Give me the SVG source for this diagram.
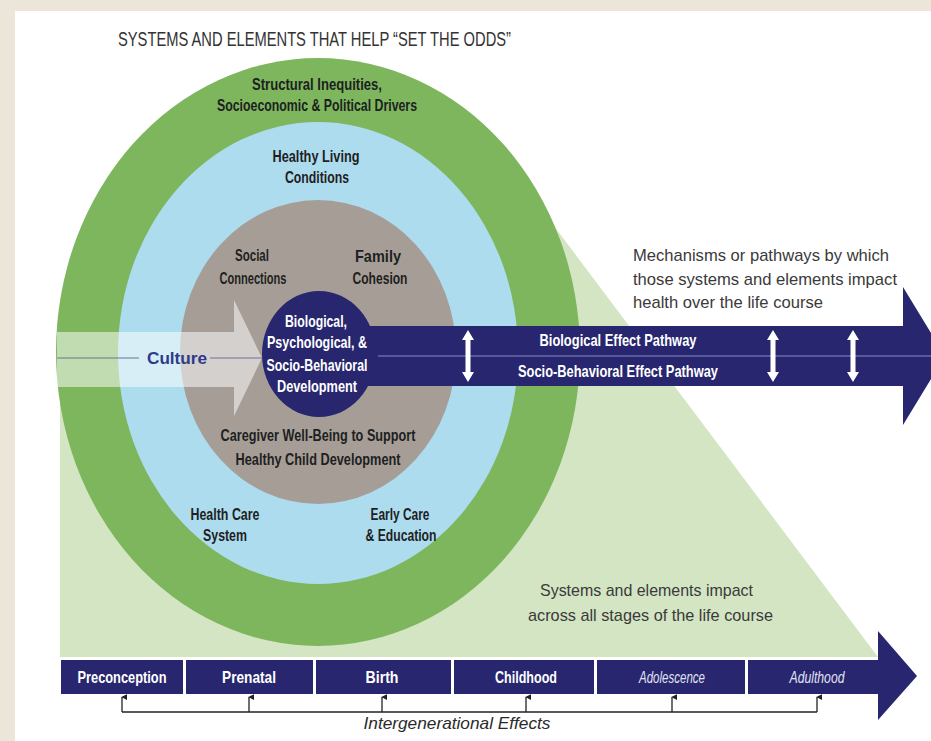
<svg xmlns="http://www.w3.org/2000/svg" width="931" height="741" viewBox="0 0 931 741">
  <style>
    .lbl { font-family: "Liberation Sans", Arial, sans-serif; font-weight: bold; font-size: 16.5px; fill: #1e1f22; text-anchor: middle; }
    .wht { font-family: "Liberation Sans", Arial, sans-serif; font-weight: bold; font-size: 16.5px; fill: #ffffff; text-anchor: middle; }
    .note { font-family: "Liberation Sans", Arial, sans-serif; font-size: 17px; fill: #3a3a3a; }
    .stage { font-family: "Liberation Sans", Arial, sans-serif; font-weight: bold; font-size: 16.5px; fill: #ffffff; text-anchor: middle; }
    .stage-it { font-family: "Liberation Sans", Arial, sans-serif; font-style: italic; font-size: 16.5px; fill: #e2e2f4; text-anchor: middle; }
    .tick { stroke: #222; stroke-width: 1.3; fill: none; }
    .dbl { fill: #ffffff; }
    .navy { fill: #27266e; }
  </style>
  <defs>
    <marker id="up" viewBox="0 0 8 8" refX="4" refY="1" markerWidth="6" markerHeight="6" markerUnits="userSpaceOnUse" orient="auto-start-reverse">
      <path d="M0,8 L4,0 L8,8 Z" fill="#222"/>
    </marker>
  </defs>

  <!-- page frame -->
  <rect x="0" y="0" width="931" height="741" fill="#ebe5da"/>
  <rect x="15" y="11" width="916" height="730" fill="#ffffff"/>

  <g id="title">
    <text x="118" y="46" font-family="Liberation Sans, Arial, sans-serif" font-size="19.5" fill="#333" textLength="393" lengthAdjust="spacingAndGlyphs">SYSTEMS AND ELEMENTS THAT HELP “SET THE ODDS”</text>
  </g>

  <!-- life-course wedge behind the rings -->
  <g id="life-course-wedge">
    <polygon points="60,360 548,218 878,657 60,657" fill="#d4e5c4"/>
    <text class="note" x="540" y="596" font-size="16.5" textLength="213" lengthAdjust="spacingAndGlyphs">Systems and elements impact</text>
    <text class="note" x="528" y="621" font-size="16.5" textLength="245" lengthAdjust="spacingAndGlyphs">across all stages of the life course</text>
  </g>

  <g id="structural-ring">
    <ellipse cx="318" cy="352" rx="262" ry="294" fill="#7db65d"/>
    <text class="lbl" x="317" y="90" textLength="130" lengthAdjust="spacingAndGlyphs">Structural Inequities,</text>
    <text class="lbl" x="317" y="111" textLength="200" lengthAdjust="spacingAndGlyphs">Socioeconomic &amp; Political Drivers</text>
  </g>

  <g id="living-conditions-ring">
    <ellipse cx="318" cy="353" rx="200" ry="231" fill="#aedcef"/>
    <text class="lbl" x="316" y="162" fill="#1d2836" textLength="87" lengthAdjust="spacingAndGlyphs">Healthy Living</text>
    <text class="lbl" x="317" y="183" textLength="64" lengthAdjust="spacingAndGlyphs">Conditions</text>
    <text class="lbl" x="225" y="520" textLength="69" lengthAdjust="spacingAndGlyphs">Health Care</text>
    <text class="lbl" x="225" y="541" textLength="44" lengthAdjust="spacingAndGlyphs">System</text>
    <text class="lbl" x="400" y="520" textLength="59" lengthAdjust="spacingAndGlyphs">Early Care</text>
    <text class="lbl" x="401" y="541" textLength="71" lengthAdjust="spacingAndGlyphs">&amp; Education</text>
  </g>

  <g id="family-ring">
    <ellipse cx="318" cy="352" rx="138" ry="152" fill="#a69e96"/>
    <text class="lbl" x="252" y="261" fill="#2a2622" textLength="34" lengthAdjust="spacingAndGlyphs">Social</text>
    <text class="lbl" x="253" y="284" fill="#2a2622" textLength="67" lengthAdjust="spacingAndGlyphs">Connections</text>
    <text class="lbl" x="378" y="262" fill="#2a2622" textLength="46" lengthAdjust="spacingAndGlyphs">Family</text>
    <text class="lbl" x="380" y="284" fill="#2a2622" textLength="55" lengthAdjust="spacingAndGlyphs">Cohesion</text>
    <text class="lbl" x="318" y="441" fill="#2a2622" textLength="195" lengthAdjust="spacingAndGlyphs">Caregiver Well-Being to Support</text>
    <text class="lbl" x="318" y="465" fill="#2a2622" textLength="165" lengthAdjust="spacingAndGlyphs">Healthy Child Development</text>
  </g>

  <!-- pathways arrow running out of the core -->
  <g id="pathway-arrow">
    <polygon class="navy" points="330,326 903,326 903,287 945,356 903,425 903,386 330,386"/>
    <line x1="378" y1="356" x2="931" y2="356" stroke="#8b89c4" stroke-width="1"/>
    <text class="wht" x="618" y="346" textLength="157" lengthAdjust="spacingAndGlyphs">Biological Effect Pathway</text>
    <text class="wht" x="618" y="377" textLength="200" lengthAdjust="spacingAndGlyphs">Socio-Behavioral Effect Pathway</text>
  </g>

  <g id="core">
    <ellipse cx="319" cy="354" rx="57" ry="63" class="navy"/>
    <text class="wht" x="316" y="327" textLength="62" lengthAdjust="spacingAndGlyphs">Biological,</text>
    <text class="wht" x="317" y="348" textLength="100" lengthAdjust="spacingAndGlyphs">Psychological, &amp;</text>
    <text class="wht" x="317" y="371" textLength="101" lengthAdjust="spacingAndGlyphs">Socio-Behavioral</text>
    <text class="wht" x="317" y="392" textLength="80" lengthAdjust="spacingAndGlyphs">Development</text>
  </g>

  <g id="culture">
    <polygon points="57,332 234,332 234,300 262,358 234,416 234,387 57,387" fill="#ffffff" fill-opacity="0.52"/>
    <line x1="57" y1="358" x2="139" y2="358" stroke="#6d7294" stroke-width="1"/>
    <line x1="210" y1="358" x2="262" y2="358" stroke="#6d7294" stroke-width="1"/>
    <text x="147" y="364" font-family="Liberation Sans, Arial, sans-serif" font-weight="bold" font-size="16.5" fill="#2e3a8a" textLength="60" lengthAdjust="spacingAndGlyphs">Culture</text>
  </g>

  <g id="mechanisms-note">
    <text class="note" x="633" y="261" textLength="256" lengthAdjust="spacingAndGlyphs">Mechanisms or pathways by which</text>
    <text class="note" x="633" y="285" textLength="264" lengthAdjust="spacingAndGlyphs">those systems and elements impact</text>
    <text class="note" x="633" y="308" textLength="190" lengthAdjust="spacingAndGlyphs">health over the life course</text>
  </g>

  <!-- two-way links between the pathways -->
  <g id="connectors">
    <polygon class="dbl" points="468,330 474,340 470.5,340 470.5,372 474,372 468,382 462,372 465.5,372 465.5,340 462,340"/>
    <polygon class="dbl" points="773,330 779,340 775.5,340 775.5,372 779,372 773,382 767,372 770.5,372 770.5,340 767,340"/>
    <polygon class="dbl" points="853,330 859,340 855.5,340 855.5,372 859,372 853,382 847,372 850.5,372 850.5,340 847,340"/>
    <polyline class="tick" points="122,712 817,712"/>
    <line class="tick" x1="122" y1="712" x2="122" y2="697" marker-end="url(#up)"/>
    <line class="tick" x1="249" y1="712" x2="249" y2="697" marker-end="url(#up)"/>
    <line class="tick" x1="382" y1="712" x2="382" y2="697" marker-end="url(#up)"/>
    <line class="tick" x1="526" y1="712" x2="526" y2="697" marker-end="url(#up)"/>
    <line class="tick" x1="672" y1="712" x2="672" y2="697" marker-end="url(#up)"/>
    <line class="tick" x1="817" y1="712" x2="817" y2="697" marker-end="url(#up)"/>
  </g>

  <g id="timeline">
    <rect class="navy" x="61" y="660" width="122" height="34"/>
    <rect class="navy" x="186" y="660" width="127" height="34"/>
    <rect class="navy" x="316" y="660" width="135" height="34"/>
    <rect class="navy" x="454" y="660" width="140" height="34"/>
    <rect class="navy" x="597" y="660" width="148" height="34"/>
    <polygon class="navy" points="748,660 878,660 878,631 917,676 878,720 878,694 748,694"/>
    <text class="stage" x="122" y="683" textLength="89" lengthAdjust="spacingAndGlyphs">Preconception</text>
    <text class="stage" x="249" y="683" textLength="54" lengthAdjust="spacingAndGlyphs">Prenatal</text>
    <text class="stage" x="382" y="683" textLength="33" lengthAdjust="spacingAndGlyphs">Birth</text>
    <text class="stage" x="526" y="683" textLength="62" lengthAdjust="spacingAndGlyphs">Childhood</text>
    <text class="stage-it" x="672" y="683" textLength="66" lengthAdjust="spacingAndGlyphs">Adolescence</text>
    <text class="stage-it" x="817" y="683" textLength="55" lengthAdjust="spacingAndGlyphs">Adulthood</text>
  </g>

  <g id="intergenerational-label">
    <text x="457" y="729" font-family="Liberation Sans, Arial, sans-serif" font-style="italic" font-size="17" fill="#2a2a2a" text-anchor="middle" textLength="187" lengthAdjust="spacingAndGlyphs">Intergenerational Effects</text>
  </g>
</svg>
